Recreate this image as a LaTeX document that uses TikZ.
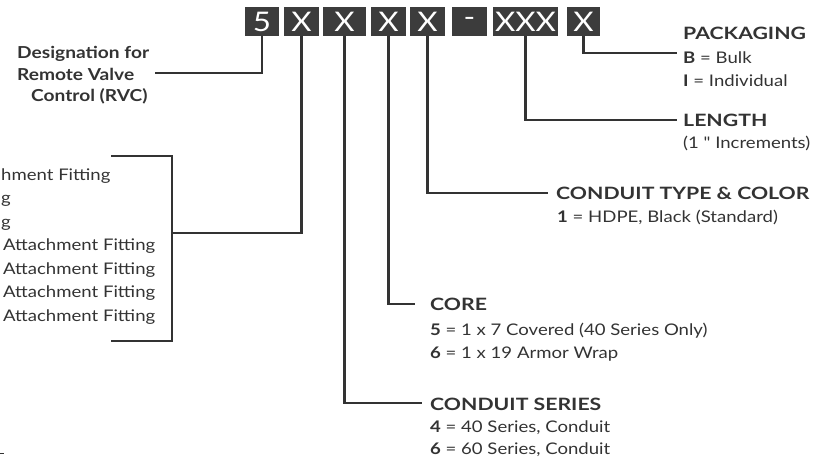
\documentclass[tikz,border=0pt]{standalone}
\usepackage{fontspec}
\setmainfont{Lato}
\newfontfamily\bodyf{Lato}[FakeStretch=1.16]
\newfontfamily\headf{Lato}[FakeStretch=1.25]
\definecolor{ink}{HTML}{333333}
\definecolor{boxc}{HTML}{3C3C3C}
\begin{document}
\begin{tikzpicture}[x=1pt,y=-1pt,
  code/.style={fill=boxc, text=white, inner sep=0pt, minimum height=29pt, font=\bodyf\fontsize{27}{27}\selectfont},
  conn/.style={draw=ink, line width=2.4pt},
  head/.style={anchor=base west, inner sep=0pt, text=ink, font=\headf\fontsize{17}{17}\selectfont\bfseries},
  desig/.style={anchor=base west, inner sep=0pt, text=ink, font=\bodyf\fontsize{16.5}{16.5}\selectfont\bfseries},
  txt/.style={anchor=base west, inner sep=0pt, text=ink, font=\bodyf\fontsize{16}{16}\selectfont},
  txte/.style={txt, anchor=base east},
]
\useasboundingbox (0,0) rectangle (825,459);

% code boxes
\node[code, minimum width=34pt] (b5)  at (262,21.5)   {5};
\node[code, minimum width=35pt] (b1)  at (301.5,21.5) {X};
\node[code, minimum width=43pt] (b2)  at (344.5,21.5) {X};
\node[code, minimum width=35pt] (b3)  at (388.5,21.5) {X};
\node[code, minimum width=35pt] (b4)  at (427.5,21.5) {X};
\node[code, minimum width=35pt] (bd)  at (469.5,21.5) {-};
\node[code, minimum width=65pt] (bl)  at (525.5,21.5) {XXX};
\node[code, minimum width=33pt] (bp)  at (583.5,21.5) {X};

% designation
\node[desig] (d1) at (17,58) {Designation for};
\node[desig] (d2) at (17,80) {Remote Valve};
\node[desig] (d3) at (31,101) {Control (RVC)};
\coordinate (dend) at (155,73);
\draw[conn] (b5.south) |- (dend);

% left list (cropped)
\node[txt] (l1) at (1,180) {hment Fitting};
\node[txt] (l2) at (1,203) {g};
\node[txt] (l3) at (1,227) {g};
\node[txt] (l4) at (3,250) {Attachment Fitting};
\node[txt] (l5) at (3,274) {Attachment Fitting};
\node[txt] (l6) at (3,297) {Attachment Fitting};
\node[txt] (l7) at (3,321) {Attachment Fitting};
\coordinate (brk) at (172,233);
\draw[conn] (111,156) -- (172,156) -- (172,341) -- (111,341);
\draw[conn] (b1.south) |- (brk);
\draw[draw=ink, line width=1pt] (0,453) -- (4,453);

% packaging
\node[head] (pk) at (683,39) {PACKAGING};
\node[txt] (pk1) at (683,63) {\textbf{B} = Bulk};
\node[txt] (pk2) at (683,86) {\textbf{I} = Individual};
\coordinate (pke) at (677,53);
\draw[conn] (bp.south) |- (pke);

% length
\node[head] (ln) at (683,126) {LENGTH};
\node[txt] (ln1) at (683,148) {(1 " Increments)};
\coordinate (lne) at (677,120);
\draw[conn] (bl.south) |- (lne);

% conduit type
\node[head] (ct) at (556,199) {CONDUIT TYPE \& COLOR};
\node[txt] (ct1) at (557,222) {\textbf{1} = HDPE, Black (Standard)};
\coordinate (cte) at (548,193);
\draw[conn] (b4.south) |- (cte);

% core
\node[head] (co) at (430,310) {CORE};
\node[txt] (co1) at (430,335) {\textbf{5} = 1 x 7 Covered (40 Series Only)};
\node[txt] (co2) at (430,358) {\textbf{6} = 1 x 19 Armor Wrap};
\coordinate (coe) at (415,304);
\draw[conn] (b3.south) |- (coe);

% conduit series
\node[head] (cs) at (430,410) {CONDUIT SERIES};
\node[txt] (cs1) at (430,432) {\textbf{4} = 40 Series, Conduit};
\node[txt] (cs2) at (430,454) {\textbf{6} = 60 Series, Conduit};
\coordinate (cse) at (422,403);
\draw[conn] (b2.south) |- (cse);
\end{tikzpicture}
\end{document}
